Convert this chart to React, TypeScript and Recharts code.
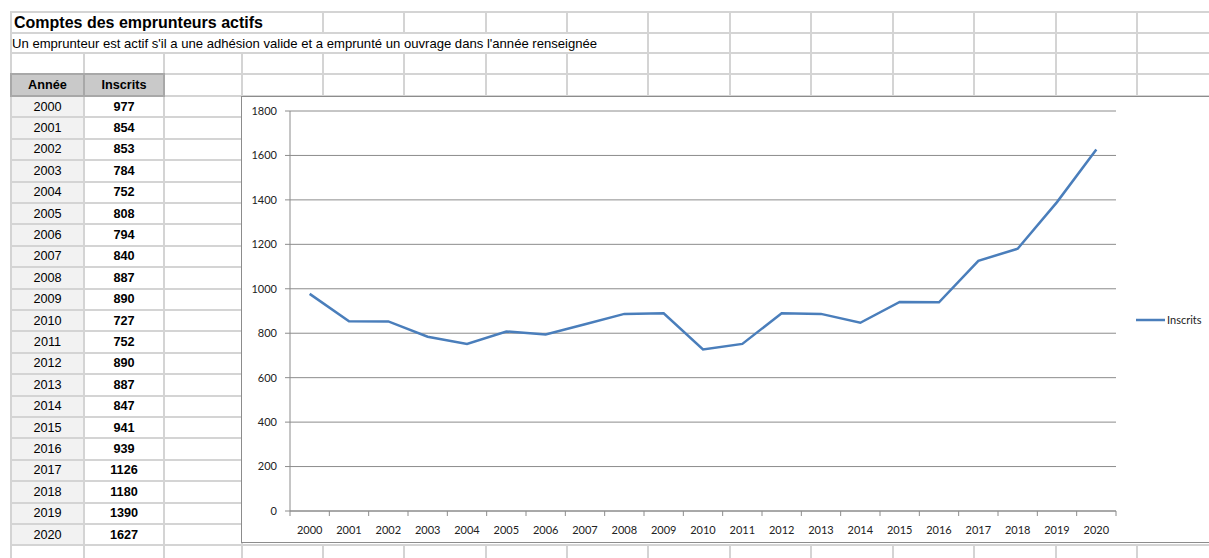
import { CartesianGrid, Legend, Line, LineChart, XAxis, YAxis } from "recharts";

const years = [
  "2000", "2001", "2002", "2003", "2004", "2005", "2006", "2007", "2008", "2009", "2010",
  "2011", "2012", "2013", "2014", "2015", "2016", "2017", "2018", "2019", "2020",
];
const inscrits = [
  977, 854, 853, 784, 752, 808, 794, 840, 887, 890, 727,
  752, 890, 887, 847, 941, 939, 1126, 1180, 1390, 1627,
];
const yTicks = [0, 200, 400, 600, 800, 1000, 1200, 1400, 1600, 1800];

const title = "Comptes des emprunteurs actifs";
const subtitle =
  "Un emprunteur est actif s'il a une adhésion valide et a emprunté un ouvrage dans l'année renseignée";

const chartData = years.map((year, i) => ({ year, Inscrits: inscrits[i] }));

// sheet geometry
const cols = [11, 84, 164, 242, 323, 404, 486, 567, 648, 730, 811, 893, 974, 1056, 1137];
const ROW_H = 21.4;
const DATA_TOP = 96;
const GRID = "#d4d4d4";
const AXIS = "#8c8c8c";
const BLUE = "#4a7ebb";

const CHART_W = 978;
const CHART_H = 445;
const PLOT_LEFT = 48;
const PLOT_RIGHT_MARGIN = 104;
const STEP = (CHART_W - PLOT_LEFT - PLOT_RIGHT_MARGIN) / years.length;

function HLine({ y, x1, x2 }: { y: number; x1: number; x2: number }) {
  return <div style={{ position: "absolute", left: x1 - 1, top: y - 1, width: x2 - x1 + 2, height: 2, background: GRID }} />;
}

function VLine({ x, y1, y2 }: { x: number; y1: number; y2: number }) {
  return <div style={{ position: "absolute", left: x - 1, top: y1 - 1, width: 2, height: y2 - y1 + 2, background: GRID }} />;
}

function YearTick(props: any) {
  const { x, y, payload, index } = props;
  const last = index === years.length - 1;
  return (
    <g>
      <line x1={x - STEP / 2} y1={y} x2={x - STEP / 2} y2={y + 5} stroke={AXIS} />
      {last && <line x1={x + STEP / 2} y1={y} x2={x + STEP / 2} y2={y + 5} stroke={AXIS} />}
      <text x={x} y={y + 18} textAnchor="middle" dominantBaseline="central" fontSize={11} fontFamily="Lato" fill="#222">
        {payload.value}
      </text>
    </g>
  );
}

function LegendBox() {
  return (
    <div style={{ display: "flex", alignItems: "center", fontFamily: "Lato", fontSize: 11, color: "#222" }}>
      <svg width={31} height={6}>
        <line x1={0} y1={3} x2={29} y2={3} stroke={BLUE} strokeWidth={2.5} />
      </svg>
      <span>Inscrits</span>
    </div>
  );
}

export default function App() {
  const rowLines: number[] = [];
  for (let k = 1; k <= years.length; k++) rowLines.push(DATA_TOP + ROW_H * k);
  const bottomLine = DATA_TOP + ROW_H * years.length;

  return (
    <div style={{ position: "absolute", left: 0, top: 0, width: 1209, height: 558, background: "#fff", overflow: "hidden", fontFamily: "'Liberation Sans', Arial, sans-serif" }}>
      {/* horizontal lines */}
      {[12, 33, 53, 74, 96].map((y) => <HLine key={"h" + y} y={y} x1={11} x2={1209} />)}
      {rowLines.map((y) => <HLine key={"r" + y} y={y} x1={11} x2={242} />)}
      <HLine y={bottomLine} x1={11} x2={1209} />

      {/* vertical lines */}
      {cols.filter((c) => c === 11 || c >= 323).map((c) => <VLine key={"a" + c} x={c} y1={12} y2={33} />)}
      {cols.filter((c) => c === 11 || c >= 648).map((c) => <VLine key={"b" + c} x={c} y1={33} y2={53} />)}
      {cols.map((c) => <VLine key={"c" + c} x={c} y1={53} y2={96} />)}
      {cols.slice(0, 4).map((c) => <VLine key={"d" + c} x={c} y1={96} y2={bottomLine} />)}
      {cols.map((c) => <VLine key={"e" + c} x={c} y1={bottomLine} y2={570} />)}

      {/* title rows */}
      <div style={{ position: "absolute", left: 14, top: 13, height: 20, lineHeight: "20px", fontSize: 16, fontWeight: "bold", color: "#000", whiteSpace: "nowrap" }}>
        {title}
      </div>
      <div style={{ position: "absolute", left: 12, top: 34, height: 19, lineHeight: "19px", fontSize: 13.1, color: "#000", whiteSpace: "nowrap" }}>
        {subtitle}
      </div>

      {/* header */}
      {[
        { label: "Année", x: 11, w: 74 },
        { label: "Inscrits", x: 84, w: 81 },
      ].map((h) => (
        <div
          key={h.label}
          style={{
            position: "absolute", left: h.x - 1, top: 73, width: h.w + 1, height: 24, boxSizing: "border-box",
            background: "#c9c9c9", border: "2px solid #a8a8a8", display: "flex", alignItems: "center",
            justifyContent: "center", fontSize: 12.7, fontWeight: "bold", color: "#000",
          }}
        >
          {h.label}
        </div>
      ))}

      {/* table rows */}
      {years.map((year, i) => {
        const top = DATA_TOP + ROW_H * i;
        return (
          <div key={year}>
            <div style={{ position: "absolute", left: 12, top: top + 1, width: 71, height: ROW_H - 2, background: "#f2f2f2", display: "flex", alignItems: "center", justifyContent: "center", fontSize: 12.7, color: "#000" }}>
              {year}
            </div>
            <div style={{ position: "absolute", left: 85, top: top + 1, width: 78, height: ROW_H - 2, display: "flex", alignItems: "center", justifyContent: "center", fontSize: 12.7, fontWeight: "bold", color: "#000" }}>
              {inscrits[i]}
            </div>
          </div>
        );
      })}

      {/* chart */}
      <div style={{ position: "absolute", left: 241, top: 96, width: CHART_W + 2, height: CHART_H + 2, border: `1px solid ${AXIS}`, boxSizing: "border-box", background: "#fff" }}>
        <LineChart
          width={CHART_W}
          height={CHART_H}
          data={chartData}
          margin={{ top: 14, right: PLOT_RIGHT_MARGIN, left: 0, bottom: 0 }}
        >
          <CartesianGrid vertical={false} stroke={AXIS} />
          <XAxis
            dataKey="year"
            height={31}
            padding={{ left: STEP / 2, right: STEP / 2 }}
            axisLine={{ stroke: AXIS }}
            tickLine={false}
            tickSize={0}
            tickMargin={0}
            interval={0}
            tick={<YearTick />}
          />
          <YAxis
            width={PLOT_LEFT}
            domain={[0, 1800]}
            ticks={yTicks}
            interval={0}
            axisLine={{ stroke: AXIS }}
            tickLine={{ stroke: AXIS }}
            tickSize={5}
            tickMargin={8}
            tick={{ fontSize: 11, fontFamily: "Lato", fill: "#222" }}
          />
          <Legend
            layout="horizontal"
            align="center"
            verticalAlign="middle"
            content={<LegendBox />}
            wrapperStyle={{ position: "absolute", left: 894, top: 216, width: 80, bottom: "auto", right: "auto" }}
          />
          <Line
            type="linear"
            dataKey="Inscrits"
            stroke={BLUE}
            strokeWidth={2.5}
            dot={false}
            activeDot={false}
            isAnimationActive={false}
          />
        </LineChart>
      </div>
    </div>
  );
}
